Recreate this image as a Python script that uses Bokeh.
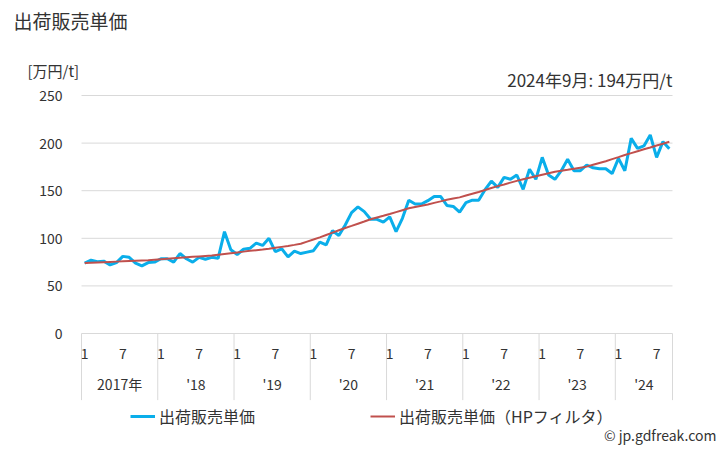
from bokeh.plotting import figure
from bokeh.models import Range1d, Label, Legend, LegendItem
from bokeh.embed import file_html
from bokeh.resources import INLINE
from bokeh.core.properties import value

# ---- data (monthly, 2017-01 .. 2024-09), unit: 万円/t ----
price = [74, 77, 75.5, 76, 72, 74.5, 81, 80, 74, 71, 74.5, 75,
         78.5, 78.5, 75, 84, 78.5, 75, 80, 78, 80, 79, 107, 88,
         83, 88.5, 89.5, 95, 92.5, 100, 86, 89, 80.5, 86.5, 84, 85.5,
         87, 96, 93, 108, 103, 114, 127, 133, 128, 120, 120, 117,
         122.5, 107, 121, 140, 136, 136, 139.5, 144, 144, 134.5, 133.5, 127.5,
         137.5, 140, 140, 151, 160, 153.5, 164, 162, 166.5, 151.5, 172.5, 162,
         185, 166.5, 162, 171, 183, 171, 171, 177, 174, 173, 173, 168,
         184, 171, 205, 194.5, 197, 208.5, 185, 201.5, 194]
trend = [74.0, 74.3, 74.6, 74.9, 75.2, 75.5, 75.8, 76.1, 76.4, 76.7, 77.0, 77.5,
         78.0, 78.5, 79.0, 79.5, 80.0, 80.5, 81.0, 81.5, 82.0, 82.8, 83.6, 84.4,
         85.2, 86.0, 86.8, 87.5, 88.2, 89.0, 90.0, 91.0, 92.0, 93.1, 94.3, 96.5,
         98.7, 101.0, 103.5, 106.0, 108.5, 110.8, 113.0, 115.3, 117.6, 120.0, 121.8, 123.6,
         125.5, 127.5, 129.5, 131.5, 132.8, 134.1, 135.5, 137.2, 138.8, 140.5, 141.8, 143.0,
         144.9, 146.8, 148.7, 150.7, 152.8, 154.8, 156.6, 158.5, 160.3, 162.0, 163.6, 165.2,
         166.8, 168.4, 170.0, 171.0, 172.0, 173.1, 174.2, 175.3, 177.2, 179.1, 181.0, 183.2,
         185.3, 187.5, 189.5, 191.5, 193.5, 195.4, 197.4, 199.4, 201.5]
year_labels = ["2017年", "'18", "'19", "'20", "'21", "'22", "'23", "'24"]
month_ticks = [1, 7]
yticks = [0, 50, 100, 150, 200, 250]
title = "出荷販売単価"
unit = "[万円/t]"
note = "2024年9月: 194万円/t"
name1 = "出荷販売単価"
name2 = "出荷販売単価（HPフィルタ）"
credit = "© jp.gdfreak.com"

FONT = "Noto Sans CJK JP"
TXT = "#333333"
GRID = "#d9d9d9"
BLUE = "#0AAEEA"
RED = "#C0504D"

n = len(price)
idx = list(range(n))
yr = [2017 + i // 12 for i in idx]
mo = [i % 12 + 1 for i in idx]

# ---- frame geometry (pixels) ----
W, H = 728, 450
fl, fr, ft, fb = 81, 672, 95, 333
kx = (fr - fl) / n
ky = (fb - ft) / 250.0
x_range = Range1d(-0.5 - fl / kx, n - 0.5 + (W - fr) / kx)
y_range = Range1d(-(H - fb) / ky, 250 + ft / ky)

p = figure(width=W, height=H, x_range=x_range, y_range=y_range,
           x_axis_location=None, y_axis_location=None, min_border=0,
           toolbar_location=None, output_backend="svg",
           outline_line_color=None)
p.xgrid.visible = False
p.ygrid.visible = False

# horizontal grid lines
p.segment(x0=-0.5, x1=n - 0.5, y0=yticks, y1=yticks, line_color=GRID, line_width=1)
# y tick labels
p.text(x=-0.5, y=yticks, text=[str(t) for t in yticks], x_offset=-19,
       text_align="right", text_baseline="middle", text_font=value(FONT),
       text_font_size="14px", text_color=TXT)

# year separators
years = sorted(set(yr))
starts = [yr.index(y) for y in years]
bounds = [s - 0.5 for s in starts] + [n - 0.5]
p.segment(x0=bounds, x1=bounds, y0=[0] * len(bounds), y1=[-70] * len(bounds),
          line_color=GRID, line_width=1)
# month labels
mi = [i for i in idx if mo[i] in month_ticks]
p.text(x=mi, y=0, text=[str(mo[i]) for i in mi], y_offset=20,
       text_align="center", text_baseline="middle", text_font=value(FONT),
       text_font_size="14px", text_color=TXT)
# year labels
ymid = [sum(i for i in idx if yr[i] == y) / yr.count(y) for y in years]
p.text(x=ymid, y=0, text=year_labels, y_offset=50,
       text_align="center", text_baseline="middle", text_font=value(FONT),
       text_font_size="14px", text_color=TXT)

r1 = p.line(idx, price, line_color=BLUE, line_width=3)
r2 = p.line(idx, trend, line_color=RED, line_width=2)

def lab(txt, x, y, size, align="left"):
    p.add_layout(Label(x=x, y=H - y, x_units="screen", y_units="screen", text=txt,
                       text_font=FONT, text_font_size=size, text_color=TXT,
                       text_align=align, text_baseline="middle"))

lab(title, 13, 20, "19px")
lab(unit, 27, 70, "15px")
lab(note, 672, 79, "17px", "right")
lab(credit, 716, 434, "14px", "right")

for r, name, x0 in [(r1, name1, 130), (r2, name2, 370)]:
    lg = Legend(items=[LegendItem(label=name, renderers=[r])], location=(x0, 22),
                orientation="horizontal", glyph_width=25, glyph_height=20,
                label_height=20, label_standoff=4, padding=0, margin=0, spacing=0,
                label_text_font=FONT, label_text_font_size="16px",
                label_text_color=TXT, background_fill_alpha=0, border_line_alpha=0)
    p.add_layout(lg)

open("out.html", "w").write(file_html(p, INLINE))
